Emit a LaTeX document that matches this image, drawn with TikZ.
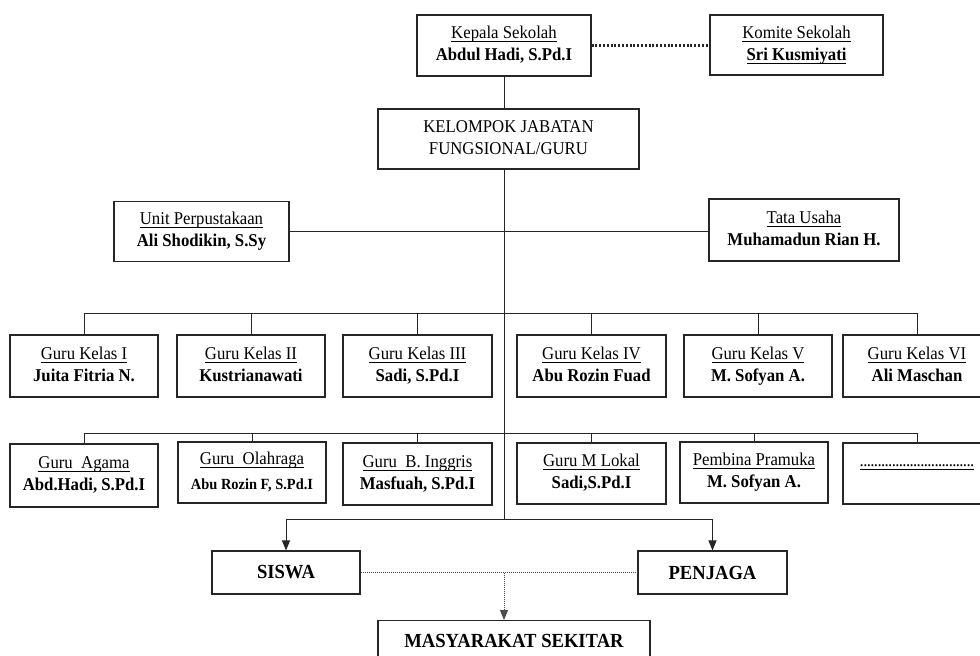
\documentclass[tikz,border=0pt]{standalone}
\usepackage{fontspec}
\setmainfont{Liberation Serif}[FakeStretch=0.93]
\usetikzlibrary{arrows.meta}
\newcommand\ulx[1]{\setbox0\hbox{#1}\rlap{\rule[-3.2pt]{\wd0}{0.9pt}}\box0}
\newcommand\two[2]{\strut\ulx{#1}\\\strut\textbf{#2}}
\newcommand\dotrow{\hbox to 114pt{\xleaders\hbox to 3.5pt{\hss.\hss}\hfill}}
\tikzset{
  orgbox/.style={draw=black!85, line width=1.1pt, align=center, inner sep=0pt,
    font=\fontsize{18}{22}\selectfont, fill=white},
  bigbox/.style={orgbox, font=\fontsize{20}{22}\selectfont\bfseries},
  sz/.style 2 args={minimum width=#1pt, minimum height=#2pt},
  conn/.style={draw=black!85, line width=1pt},
  tip/.style={-{Triangle[length=10pt,width=8pt]}},
  thickdots/.style={draw=black!85, line width=2.2pt, dash pattern=on 2pt off 1.8pt},
  thindots/.style={draw=black!70, line width=0.9pt, dash pattern=on 1pt off 1pt}
}
\begin{document}
\begin{tikzpicture}[x=1pt, y=-1pt]
\useasboundingbox[fill=white] (0,0) rectangle (980,656);

% top
\node[orgbox, sz={174}{61}] (kepala) at (504,45.5) {\two{Kepala Sekolah}{Abdul Hadi, S.Pd.I}};
\node[orgbox, sz={173}{60}] (komite) at (796.5,45) {\strut\ulx{Komite Sekolah}\\\strut\ulx{\textbf{Sri Kusmiyati}}};
\node[orgbox, sz={261}{60}] (kelompok) at (508.5,139) {\strut KELOMPOK JABATAN\\\strut FUNGSIONAL/GURU};
\node[orgbox, sz={175}{60}] (perpus) at (201.5,231.5) {\two{Unit Perpustakaan}{Ali Shodikin, S.Sy}};
\node[orgbox, sz={190}{62}] (tata) at (804,230) {\two{Tata Usaha}{Muhamadun Rian H.}};

% row 1
\node[orgbox, sz={148}{62}] (k1) at (84,366) {\two{Guru Kelas I}{Juita Fitria N.}};
\node[orgbox, sz={148}{62}] (k2) at (251,366) {\two{Guru Kelas II}{Kustrianawati}};
\node[orgbox, sz={149}{62}] (k3) at (417.5,366) {\two{Guru Kelas III}{Sadi, S.Pd.I}};
\node[orgbox, sz={149}{62}] (k4) at (591.5,366) {\two{Guru Kelas IV}{Abu Rozin Fuad}};
\node[orgbox, sz={148}{62}] (k5) at (758,366) {\two{Guru Kelas V}{M. Sofyan A.}};
\node[orgbox, sz={148}{62}] (k6) at (917,366) {\two{Guru Kelas VI}{Ali Maschan}};

% row 2
\node[orgbox, sz={148}{63}] (agama) at (84,475.5) {\two{Guru\ \ Agama}{Abd.Hadi, S.Pd.I}};
\node[orgbox, sz={148}{61}] (olahraga) at (252,472.5) {\strut\ulx{Guru\ \ Olahraga}\\[3pt]{\fontsize{15.5}{16}\selectfont\bfseries Abu Rozin F, S.Pd.I}\strut};
\node[orgbox, sz={149}{62}] (inggris) at (417.5,474) {\two{Guru\ \ B. Inggris}{Masfuah, S.Pd.I}};
\node[orgbox, sz={149}{61}] (mlokal) at (591.5,473.5) {\two{Guru M Lokal}{Sadi,S.Pd.I}};
\node[orgbox, sz={148}{61}] (pramuka) at (754,472.5) {\two{Pembina Pramuka}{M. Sofyan A.}};
\node[orgbox, sz={148}{61}] (lain) at (917,473.5) {\strut\ulx{\dotrow}\\\strut};

% bottom
\node[bigbox, sz={148}{43}] (siswa) at (286,572.5) {SISWA};
\node[bigbox, sz={149}{43}] (penjaga) at (712.5,572.5) {PENJAGA};
\node[bigbox, anchor=north, minimum width=272pt, text height=13pt, text depth=0pt, inner ysep=14pt] (masy) at (514,620) {MASYARAKAT SEKITAR};

% connectors
\draw[thickdots] (kepala.east) -- (kepala.east -| komite.west);
\draw[conn] (kepala.south) -- (kepala.south |- kelompok.north);
\coordinate (split) at (504,519);
\draw[conn] (kepala.south |- kelompok.south) -- (split);
\draw[conn] (perpus.east) -- (perpus.east -| tata.west);

\coordinate (bus1) at (0,313);
\draw[conn] (k1.north) -- (k1.north |- bus1) -- (k6.north |- bus1) -- (k6.north);
\foreach \n in {k2,k3,k4,k5} \draw[conn] (\n.north) -- (\n.north |- bus1);

\coordinate (bus2) at (0,433);
\draw[conn] (agama.north) -- (agama.north |- bus2) -- (lain.north |- bus2) -- (lain.north);
\foreach \n in {olahraga,inggris,mlokal,pramuka} \draw[conn] (\n.north) -- (\n.north |- bus2);

\draw[conn, tip] (split) -| (siswa.north);
\draw[conn, tip] (split) -| (penjaga.north);

\draw[thindots] (siswa.east) -- (penjaga.west);
\draw[thindots, tip] (split |- siswa.east) -- (split |- masy.north);
\end{tikzpicture}
\end{document}
